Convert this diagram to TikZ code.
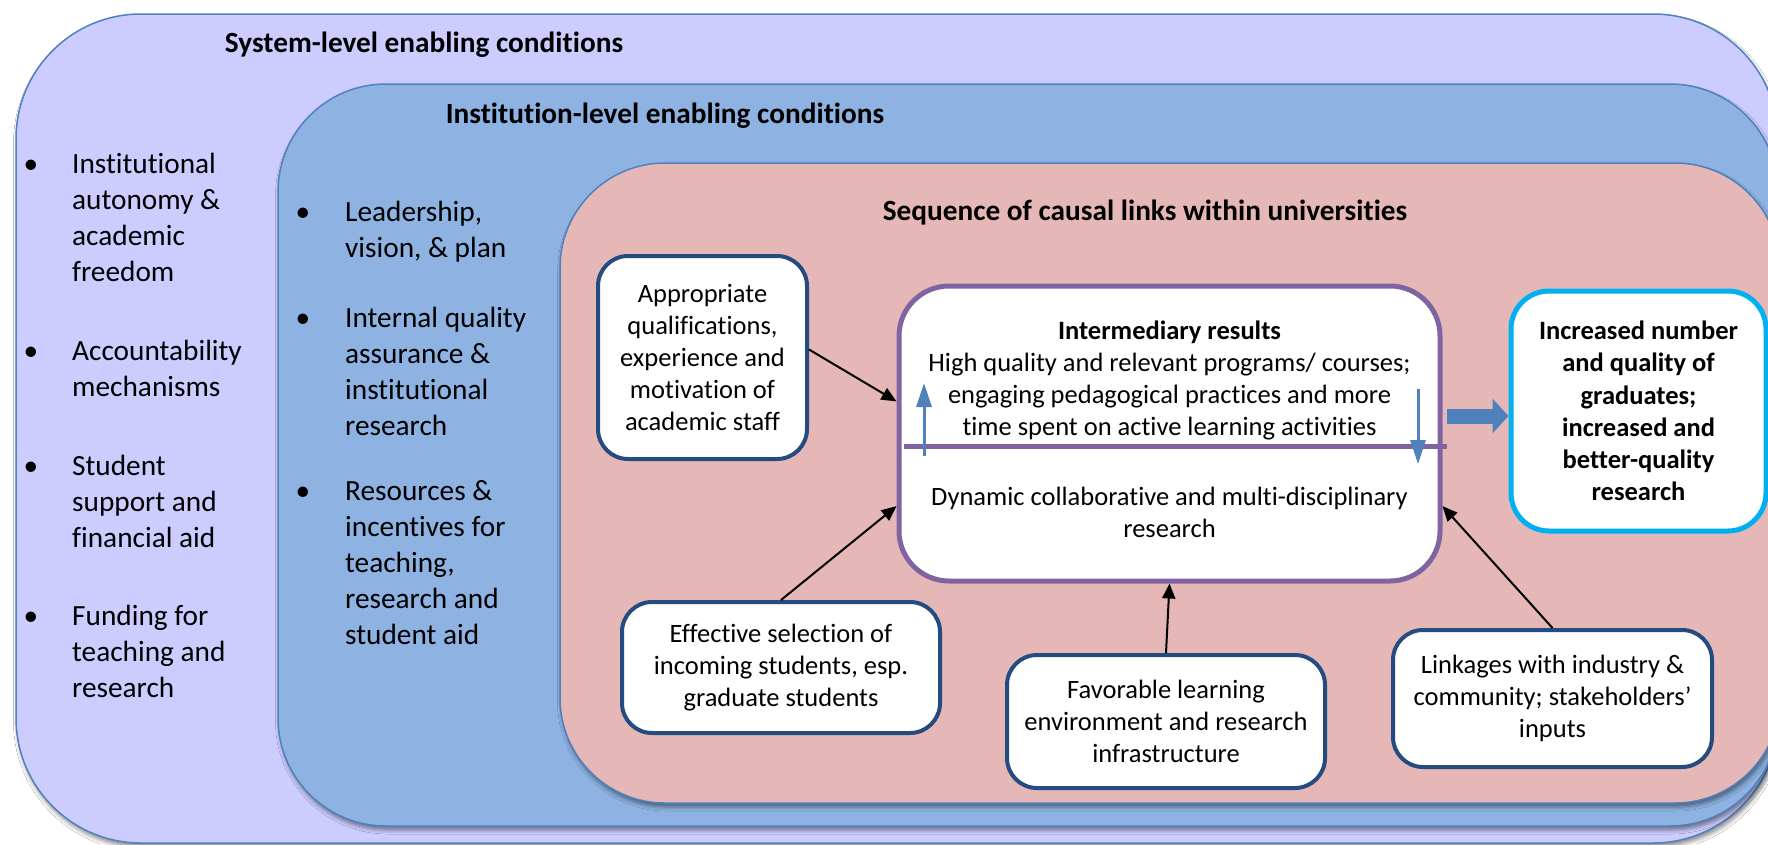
\documentclass[tikz,border=0pt]{standalone}
\usepackage{fontspec}
\setmainfont{Carlito}[Ligatures={NoCommon}]
\usetikzlibrary{arrows.meta,calc,shadows.blur}

\definecolor{lavender}{RGB}{204,204,255}
\definecolor{instblue}{RGB}{142,179,226}
\definecolor{rosefill}{RGB}{229,184,183}
\definecolor{frameblue}{RGB}{79,129,189}
\definecolor{navyline}{RGB}{36,76,128}
\definecolor{purpleline}{RGB}{128,100,162}
\definecolor{cyanline}{RGB}{0,176,240}

\newcommand\itemsfnt{\fontsize{29.3}{36}\selectfont}
\newcommand\cellfnt{\fontsize{26.5}{32.2}\selectfont}

\begin{document}
\begin{tikzpicture}[x=1pt,y=-1pt,
  container/.style={draw=frameblue, line width=1.5pt, outer sep=0pt, inner sep=0pt,
    anchor=north west,
    blur shadow={shadow xshift=1.5pt, shadow yshift=-4pt, shadow blur radius=4pt,
      shadow opacity=45}},
  leveltitle/.style={anchor=base, inner sep=0pt, font=\itemsfnt\bfseries},
  bulletmark/.style={anchor=base, inner sep=0pt, font=\itemsfnt},
  itemtext/.style={anchor=base west, inner sep=0pt, font=\itemsfnt},
  causebox/.style={draw=navyline, line width=4pt, fill=white, rounded corners=30pt,
    align=center, inner sep=0pt, font=\cellfnt},
  link/.style={draw=black, line width=2pt, -{Triangle[length=15pt,width=13pt]}},
  feedback/.style={draw=frameblue, line width=3pt, -{Triangle[length=24pt,width=15pt]}}
]
\useasboundingbox (0,0) rectangle (1768,844);
\fill[white] (0,0) rectangle (1768,844);
\clip (0,0) rectangle (1768,844);

% nested levels of enabling conditions
\node[container, fill=lavender, rounded corners=125pt,
  minimum width=1762pt, minimum height=829pt] (sys) at (16,14) {};
\node[container, fill=instblue, rounded corners=108pt,
  minimum width=1500pt, minimum height=742pt] (inst) at (278,84) {};
\node[container, fill=rosefill, rounded corners=105pt,
  minimum width=1220pt, minimum height=640pt] (uni) at (560,163) {};

% level titles
\node[leveltitle] (systitle) at (424,52) {System-level enabling conditions};
\node[leveltitle] (insttitle) at (665,123) {Institution-level enabling conditions};
\node[leveltitle] (unititle) at (1145,220) {Sequence of causal links within universities};

% system-level conditions
\node[bulletmark] (sb1) at (31,173) {\textbullet};
\node[itemtext] (si1) at (72,173) {\begin{tabular}[t]{@{}l@{}}Institutional\\autonomy \&\\academic\\freedom\end{tabular}};
\node[bulletmark] (sb2) at (31,360) {\textbullet};
\node[itemtext] (si2) at (72,360) {\begin{tabular}[t]{@{}l@{}}Accountability\\mechanisms\end{tabular}};
\node[bulletmark] (sb3) at (31,475) {\textbullet};
\node[itemtext] (si3) at (72,475) {\begin{tabular}[t]{@{}l@{}}Student\\support and\\financial aid\end{tabular}};
\node[bulletmark] (sb4) at (31,625) {\textbullet};
\node[itemtext] (si4) at (72,625) {\begin{tabular}[t]{@{}l@{}}Funding for\\teaching and\\research\end{tabular}};

% institution-level conditions
\node[bulletmark] (ib1) at (303,221) {\textbullet};
\node[itemtext] (ii1) at (345,221) {\begin{tabular}[t]{@{}l@{}}Leadership,\\vision, \& plan\end{tabular}};
\node[bulletmark] (ib2) at (303,327) {\textbullet};
\node[itemtext] (ii2) at (345,327) {\begin{tabular}[t]{@{}l@{}}Internal quality\\assurance \&\\institutional\\research\end{tabular}};
\node[bulletmark] (ib3) at (303,500) {\textbullet};
\node[itemtext] (ii3) at (345,500) {\begin{tabular}[t]{@{}l@{}}Resources \&\\incentives for\\teaching,\\research and\\student aid\end{tabular}};

% causal sequence inside universities
\node[draw=purpleline, line width=5pt, fill=white, rounded corners=50pt, inner sep=0pt,
  minimum width=541pt, minimum height=295pt] (ir) at (1169.5,433.5) {};
\node[anchor=base, inner sep=0pt, font=\cellfnt] (irtop) at (1169.5,339)
  {\begin{tabular}[t]{@{}c@{}}\textbf{Intermediary results}\\High quality and relevant programs/ courses;\\engaging pedagogical practices and more\\time spent on active learning activities\end{tabular}};
\node[anchor=base, inner sep=0pt, font=\cellfnt] (irbottom) at (1169.5,505)
  {\begin{tabular}[t]{@{}c@{}}Dynamic collaborative and multi-disciplinary\\research\end{tabular}};

\node[causebox, minimum width=209pt, minimum height=203pt] (staff) at (702.5,357.5)
  {Appropriate\\qualifications,\\experience and\\motivation of\\academic staff};
\node[causebox, minimum width=318pt, minimum height=131pt] (select) at (781,667.5)
  {Effective selection of\\incoming students, esp.\\graduate students};
\node[causebox, minimum width=318pt, minimum height=133pt] (envir) at (1166,721.5)
  {Favorable learning\\environment and research\\infrastructure};
\node[causebox, minimum width=319pt, minimum height=137pt] (linkages) at (1552.5,698.5)
  {Linkages with industry \&\\community; stakeholders’\\inputs};
\node[draw=cyanline, line width=5pt, fill=white, rounded corners=38pt, align=center,
  inner sep=0pt, font=\cellfnt\bfseries, minimum width=255pt, minimum height=240pt] (outcome)
  at (1638.5,411) {Increased number\\and quality of\\graduates;\\increased and\\better-quality\\research};

% divider between teaching and research results
\draw[purpleline, line width=5pt] ($(ir.west |- 0,446)+(7,0)$) -- ($(ir.east |- 0,446)+(4,0)$);

% two-way link between teaching and research
\coordinate (upfrom) at (924,456);
\coordinate (upto) at (924,383);
\coordinate (downfrom) at (1418,389);
\coordinate (downto) at (1418,464);
\draw[feedback] (upfrom) -- (upto);
\draw[feedback] (downfrom) -- (downto);

% inputs into the intermediary results
\draw[link] ($(staff.east)+(0,-8)$) -- ($(ir.north west)!0.393!(ir.south west)$);
\draw[link] (select.north) -- ($(ir.north west)!0.742!(ir.south west)$);
\draw[link] (envir.north) -- (ir.south);
\draw[link] (linkages.north) -- ($(ir.north east)!0.742!(ir.south east)$);

% results lead to outcomes
\draw[draw=frameblue, line width=15pt, shorten <=4pt, -{Triangle[length=16pt,width=34pt]}]
  ($(ir.east |- outcome.west)+(0,5)$) -- ($(outcome.west)+(0,5)$);
\end{tikzpicture}
\end{document}
